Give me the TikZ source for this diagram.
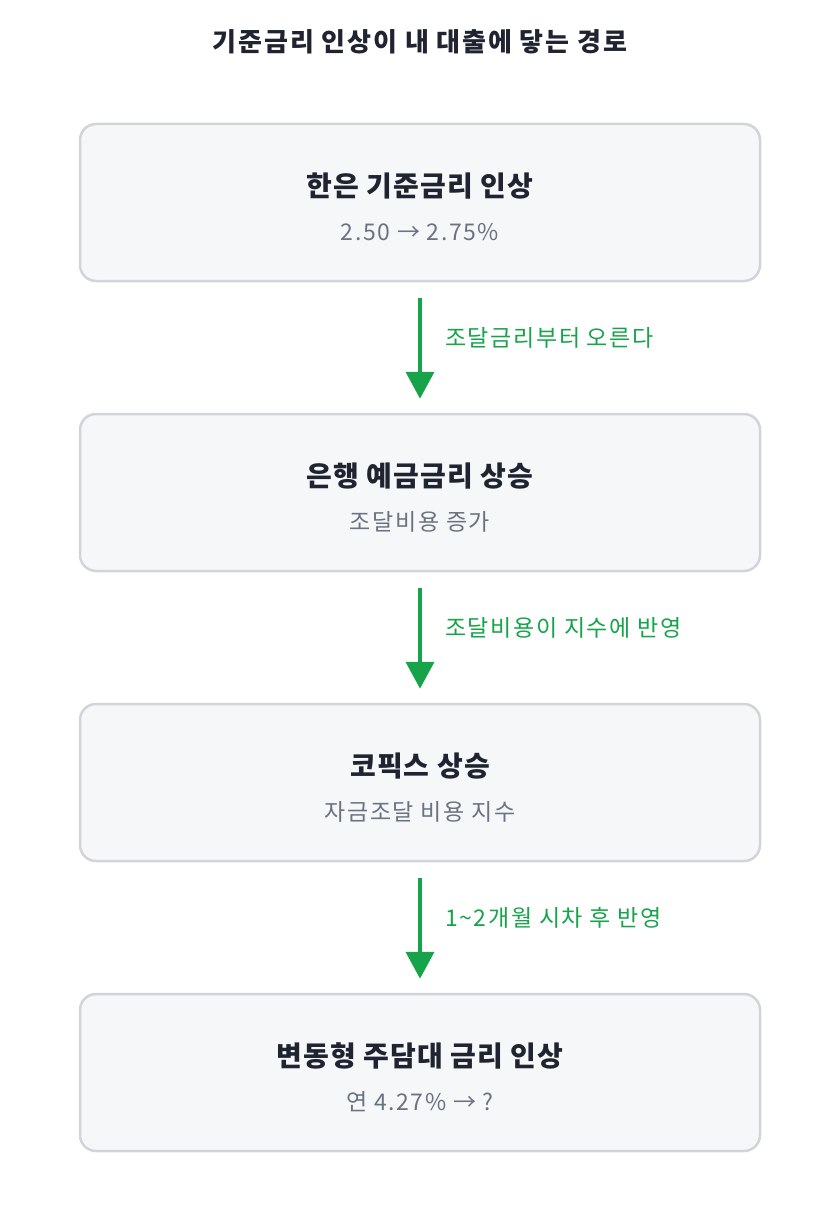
\documentclass[tikz,border=0pt]{standalone}
\usepackage{fontspec}
\setmainfont{Noto Sans CJK KR}
\usetikzlibrary{arrows.meta}
\definecolor{boxfill}{HTML}{F6F7F9}
\definecolor{boxline}{HTML}{D2D4DA}
\definecolor{titlecol}{HTML}{1F2430}
\definecolor{subcol}{HTML}{6B7280}
\definecolor{flowgreen}{HTML}{16A34A}
\newfontfamily\headfont[LetterSpace=7]{Noto Sans CJK KR}
\newfontfamily\titlefont[LetterSpace=4]{Noto Sans CJK KR}
\newfontfamily\subfont[LetterSpace=7]{Noto Sans CJK KR}
\tikzset{
  stagebox/.style={draw=boxline, line width=2.5pt, fill=boxfill, rounded corners=16pt,
    minimum width=680pt, minimum height=157pt, inner sep=0pt},
  heading/.style={font=\headfont\fontsize{26}{30}\selectfont\bfseries, text=titlecol, inner sep=0pt},
  boxtitle/.style={font=\titlefont\fontsize{28}{32}\selectfont\bfseries, text=titlecol, inner sep=0pt},
  boxsub/.style={font=\subfont\fontsize{23}{27}\selectfont, text=subcol, inner sep=0pt},
  flowlabel/.style={font=\subfont\fontsize{23}{27}\selectfont, text=flowgreen, inner sep=0pt, anchor=west},
  flow/.style={draw=flowgreen, line width=4pt, -{Triangle[width=28pt,length=27pt]},
    shorten <=16pt, shorten >=14pt},
}
\begin{document}
\begin{tikzpicture}[x=1pt,y=-1pt]
\useasboundingbox (0,0) rectangle (840,1212);
\node[heading] (head) at (420,42) {기준금리 인상이 내 대출에 닿는 경로};

\node[stagebox] (b1) at (420,202.5) {};
\node[boxtitle] (t1) at (420,186) {한은 기준금리 인상};
\node[boxsub] (s1) at (420,232) {2.50 → 2.75\%};

\node[stagebox] (b2) at (420,492.5) {};
\node[boxtitle] (t2) at (420,476) {은행 예금금리 상승};
\node[boxsub] (s2) at (420,522) {조달비용 증가};

\node[stagebox] (b3) at (420,782.5) {};
\node[boxtitle] (t3) at (420,766) {코픽스 상승};
\node[boxsub] (s3) at (420,812) {자금조달 비용 지수};

\node[stagebox] (b4) at (420,1072.5) {};
\node[boxtitle] (t4) at (420,1056) {변동형 주담대 금리 인상};
\node[boxsub] (s4) at (420,1102) {연 4.27\% → ?};

\draw[flow] (b1.south) -- (b2.north);
\draw[flow] (b2.south) -- (b3.north);
\draw[flow] (b3.south) -- (b4.north);

\node[flowlabel] (l1) at (445,338) {조달금리부터 오른다};
\node[flowlabel] (l2) at (445,628) {조달비용이 지수에 반영};
\node[flowlabel] (l3) at (445,918) {1\textasciitilde2개월 시차 후 반영};
\end{tikzpicture}
\end{document}
